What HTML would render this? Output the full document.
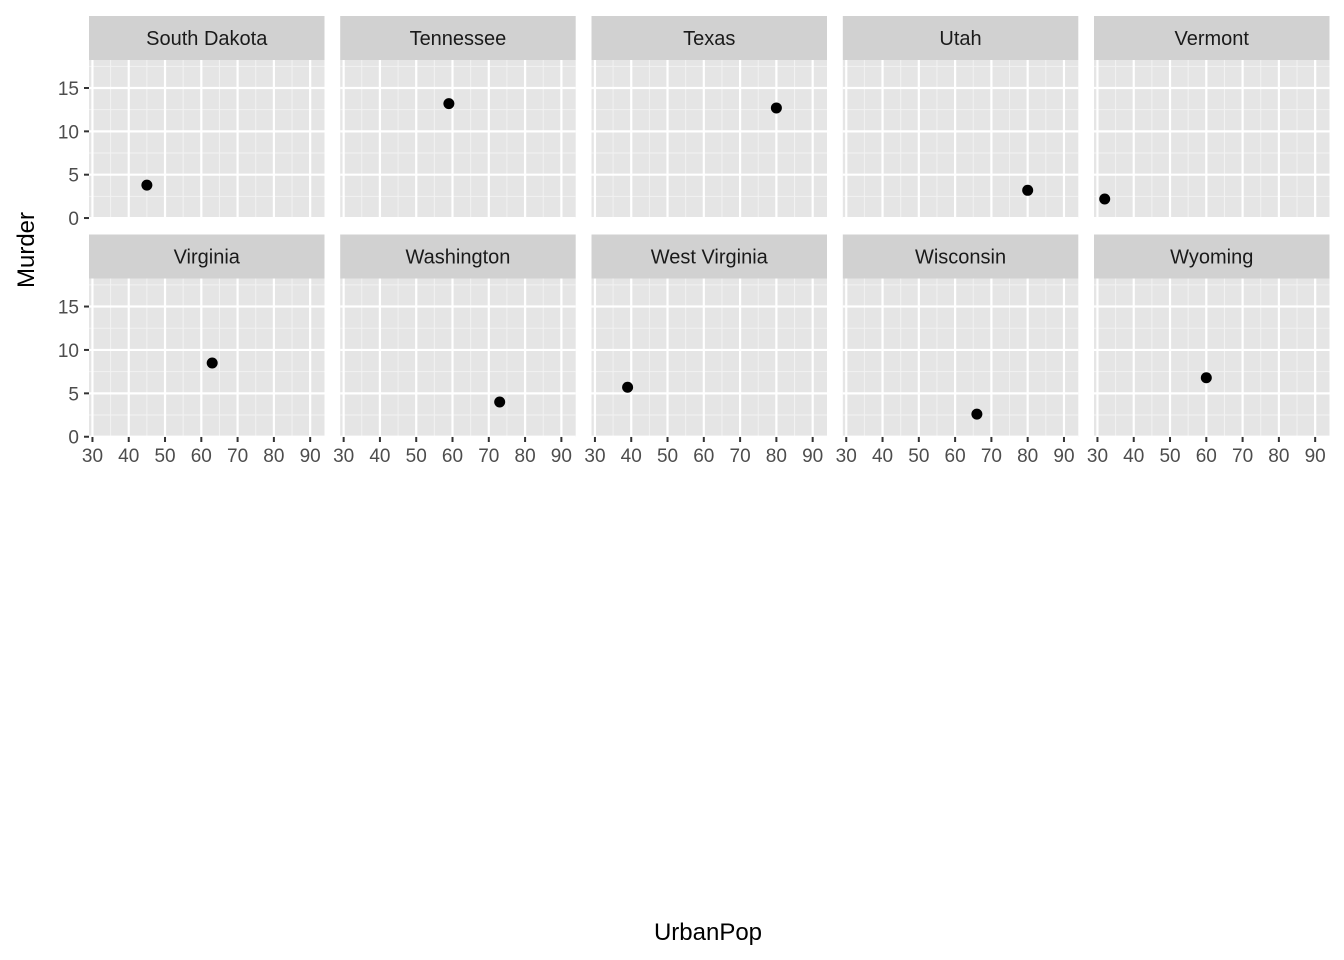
<!DOCTYPE html>
<html><head><meta charset="utf-8"><style>
body{margin:0;background:#fff;}
svg{display:block;font-family:"Liberation Sans",Arial,sans-serif;}
</style></head><body>
<svg id="chart" width="1344" height="960"></svg>
<script>
const states=["South Dakota","Tennessee","Texas","Utah","Vermont","Virginia","Washington","West Virginia","Wisconsin","Wyoming"];
const urbanPop=[45,59,80,80,32,63,73,39,66,60];
const murder=[3.8,13.2,12.7,3.2,2.2,8.5,4.0,5.7,2.6,6.8];
const xTicks=[30,40,50,60,70,80,90];
const yTicks=[0,5,10,15];
const xDomain=[29.05,93.95], yDomain=[-0.03,18.23];

const NS="http://www.w3.org/2000/svg";
const svg=document.getElementById('chart');
function mk(tag,attrs,parent,text){const e=document.createElementNS(NS,tag);for(const k in attrs)e.setAttribute(k,attrs[k]);if(text!==undefined)e.textContent=text;(parent||svg).appendChild(e);return e;}
const pW=235.5;
const lefts=[89,340.2,591.5,842.8,1094];
const rows=[{st:16,pt:60,pb:218.3},{st:234.5,pt:278.5,pb:437}];
for(let i=0;i<states.length;i++){
  const col=i%5,row=Math.floor(i/5);
  const L=lefts[col],R=rows[row];
  const sx=v=>L+(v-xDomain[0])/(xDomain[1]-xDomain[0])*pW;
  const sy=v=>R.pb-(v-yDomain[0])/(yDomain[1]-yDomain[0])*(R.pb-R.pt);
  const g=mk('g',{},svg);
  
  
  const strip=mk('rect',{x:L,y:R.st,width:pW,height:R.pt-R.st,fill:'#d9d9d9'},g);
  strip.setAttribute('fill','#d1d1d1');
  
  
  const lab=mk('text',{x:L+pW/2,y:R.st+29,'text-anchor':'middle','font-size':'20',fill:'#1a1a1a'},g,states[i]);
  
  
  const bg=mk('rect',{x:L,y:R.pt,width:pW,height:R.pb-R.pt,fill:'#ebebeb'},g);
  bg.setAttribute('fill','#e5e5e5');
  
  
  // minor grid
  for(let v=35;v<=90;v+=10){mk('line',{x1:sx(v),x2:sx(v),y1:R.pt,y2:R.pb,stroke:'#f2f2f2','stroke-width':1},g);}
  for(let v=2.5;v<=18;v+=5){mk('line',{x1:L,x2:L+pW,y1:sy(v),y2:sy(v),stroke:'#f2f2f2','stroke-width':1},g);}
  xTicks.forEach(v=>mk('line',{x1:sx(v),x2:sx(v),y1:R.pt,y2:R.pb,stroke:'#fff','stroke-width':2.2},g));
  yTicks.forEach(v=>mk('line',{x1:L,x2:L+pW,y1:sy(v),y2:sy(v),stroke:'#fff','stroke-width':2.2},g));
  const pt=mk('circle',{cx:sx(urbanPop[i]),cy:sy(murder[i]),r:5.5,fill:'#000'},g);
  
  
  if(col===0){
    yTicks.forEach(v=>{
      mk('line',{x1:L-5,x2:L,y1:sy(v),y2:sy(v),stroke:'#333','stroke-width':2},g);
      const t=mk('text',{x:L-10,y:sy(v)+7,'text-anchor':'end','font-size':'19',fill:'#4d4d4d'},g,String(v));
      
      
    });
  }
  if(row===1){
    xTicks.forEach(v=>{
      mk('line',{x1:sx(v),x2:sx(v),y1:R.pb,y2:R.pb+5,stroke:'#333','stroke-width':2},g);
      const t=mk('text',{x:sx(v),y:R.pb+25,'text-anchor':'middle','font-size':'19',fill:'#4d4d4d'},g,String(v));
      
      
    });
  }
}
const xt=mk('text',{x:708,y:940,'text-anchor':'middle','font-size':'24',fill:'#000'},svg,'UrbanPop');


const yt=mk('text',{x:0,y:0,'text-anchor':'middle','font-size':'24',fill:'#000',transform:'translate(34,250) rotate(-90)'},svg,'Murder');


</script>
</body></html>
